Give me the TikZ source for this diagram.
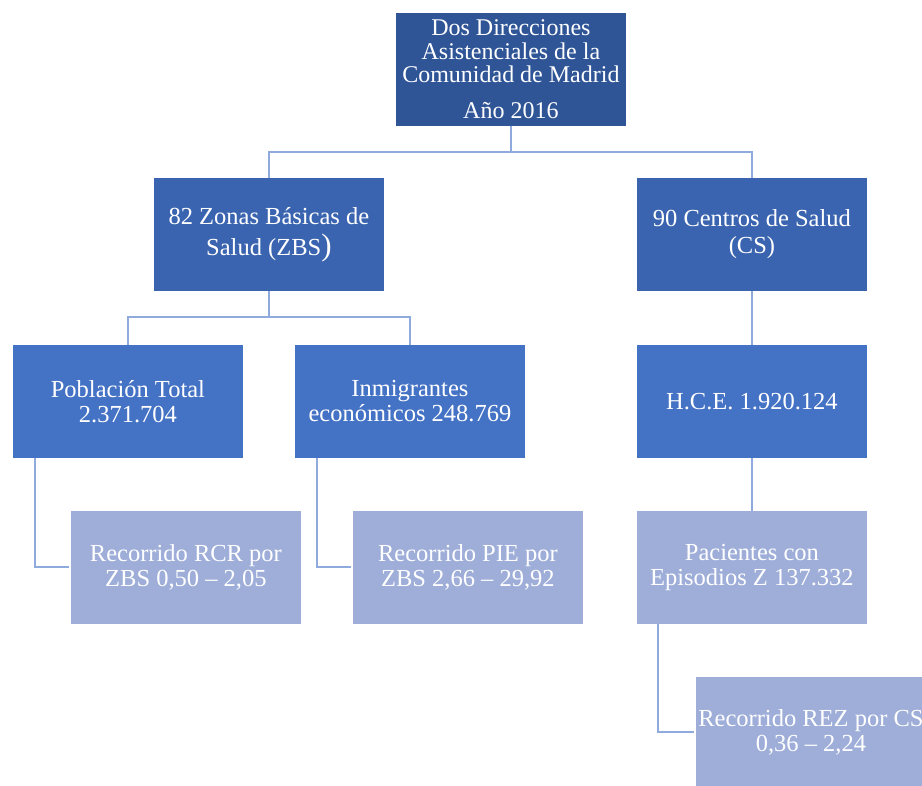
\documentclass[tikz,border=0pt]{standalone}
\usepackage{fontspec}
\setmainfont{Liberation Serif}
\usetikzlibrary{calc}

\definecolor{azulA}{RGB}{47,85,151}
\definecolor{azulB}{RGB}{59,100,176}
\definecolor{azulC}{RGB}{68,114,196}
\definecolor{azulD}{RGB}{158,174,217}
\definecolor{linea}{RGB}{143,170,220}

\begin{document}
\begin{tikzpicture}[x=1pt,y=-1pt,
 caja/.style={anchor=north west,minimum width=231pt,minimum height=114pt,inner sep=0pt,
   draw=white,line width=0.8pt,text=white,align=center,font=\fontsize{24.5}{25}\selectfont},
 enlace/.style={draw=linea,line width=2pt}]
 \useasboundingbox (0,0) rectangle (922,786);
 % nivel 1
 \node[caja,fill=azulA,font=\fontsize{24}{23.5}\selectfont] (dir) at (395,12)
   {Dos Direcciones\\Asistenciales de la\\Comunidad de Madrid\\[12pt]Año 2016};
 % nivel 2
 \node[caja,fill=azulB,font=\fontsize{24.5}{31}\selectfont] (zbs) at (153,177)
   {82 Zonas Básicas de\\Salud (ZBS{\fontsize{31}{31}\selectfont)}};
 \node[caja,fill=azulB,font=\fontsize{24.5}{27}\selectfont] (cs) at (636,177)
   {90 Centros de Salud\\(CS)};
 % nivel 3
 \node[caja,fill=azulC] (pob) at (12,344) {Población Total\\2.371.704};
 \node[caja,fill=azulC] (inm) at (294,344) {Inmigrantes\\económicos 248.769};
 \node[caja,fill=azulC] (hce) at (636,344) {H.C.E. 1.920.124};
 % nivel 4
 \node[caja,fill=azulD] (rcr) at (70,510) {Recorrido RCR por\\ZBS 0,50 – 2,05};
 \node[caja,fill=azulD] (pie) at (352,510) {Recorrido PIE por\\ZBS 2,66 – 29,92};
 \node[caja,fill=azulD] (pac) at (636,510) {Pacientes con\\Episodios Z 137.332};
 % nivel 5
 \node[caja,fill=azulD,minimum height=112pt] (rez) at (695,676) {Recorrido REZ por CS\\0,36 – 2,24};
 %
 \foreach \X in {zbs,cs}
 {\draw[enlace] ([yshift=1pt]dir.south) -- ++(0,26) -| ([yshift=-1pt]\X.north);}
 \foreach \X in {pob,inm}
 {\draw[enlace] ([yshift=1pt]zbs.south) -- ++(0,26) -| ([yshift=-1pt]\X.north);}
 \draw[enlace] ([yshift=1pt]cs.south) -- ([yshift=-1pt]hce.north);
 \draw[enlace] ([yshift=1pt]hce.south) -- ([yshift=-1pt]pac.north);
 %
 \draw[enlace] ([xshift=23pt,yshift=1pt]pob.south west) |- ([xshift=-1pt]rcr.west);
 \draw[enlace] ([xshift=23pt,yshift=1pt]inm.south west) |- ([xshift=-1pt]pie.west);
 \draw[enlace] ([xshift=22pt,yshift=1pt]pac.south west) |- ([xshift=-1pt]rez.west);
\end{tikzpicture}
\end{document}
